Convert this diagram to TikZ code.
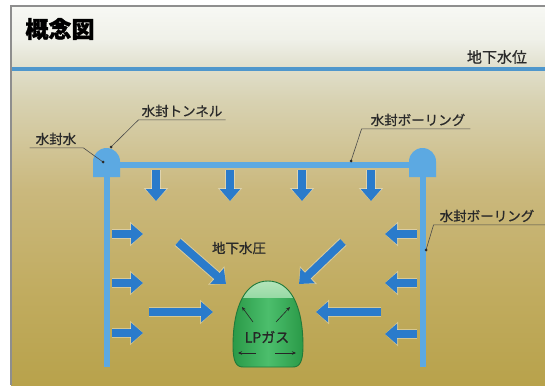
\documentclass[tikz,border=0pt]{standalone}
\usepackage{fontspec}
\newfontfamily\jp[FakeBold=0.8]{Noto Sans CJK JP}
\newfontfamily\jptitle[FakeBold=1.2]{Noto Sans CJK JP}
\usetikzlibrary{arrows.meta}

\definecolor{bgA}{HTML}{F7F8F4}
\definecolor{bgB}{HTML}{EFF0E8}
\definecolor{bgC}{HTML}{E0DFCB}
\definecolor{bgD}{HTML}{D8D2B2}
\definecolor{bgE}{HTML}{CAB87D}
\definecolor{bgF}{HTML}{C1AC60}
\definecolor{bgG}{HTML}{B8A24B}
\definecolor{framegray}{HTML}{8E8E8E}
\definecolor{watertable}{HTML}{4F97CC}
\definecolor{tube}{HTML}{5CA9E2}
\definecolor{flowblue}{HTML}{2A7BCB}
\definecolor{gasdark}{HTML}{2A9A48}
\definecolor{gasmid}{HTML}{4CBE6C}
\definecolor{gaslight}{HTML}{B9E6BE}
\definecolor{gasedge}{HTML}{20793A}
\definecolor{inktext}{HTML}{2A2A2A}
\definecolor{leaderink}{HTML}{4A4A4A}

\begin{document}
\begin{tikzpicture}[x=1pt,y=-1pt,
  lbl/.style={font=\jp\fontsize{13.5}{15}\selectfont, text=inktext, inner xsep=3pt, inner ysep=2.5pt},
  leader/.style={draw=leaderink, line width=0.6pt},
  dot/.style={fill=inktext},
  flow/.style={draw=flowblue, line width=8pt, -{Triangle[length=12pt,width=20pt]},
    preaction={draw=white, draw opacity=0.35, line width=10pt, -{Triangle[length=13pt,width=24pt]}}},
  pipe/.style={draw=tube},
  smallarrow/.style={draw=black!85, line width=0.6pt, -{Stealth[length=4pt,width=3.5pt]}}
]
\useasboundingbox (0,0) rectangle (545,385);
\fill[white] (0,0) rectangle (545,385);

% ground shading, light at the top and khaki towards the bottom
\shade[top color=bgA, bottom color=bgB] (11,6) rectangle (545,40.5);
\shade[top color=bgB, bottom color=bgC] (11,40) rectangle (545,68.5);
\shade[top color=bgC, bottom color=bgD] (11,68) rectangle (545,100.5);
\shade[top color=bgD, bottom color=bgE] (11,100) rectangle (545,190.5);
\shade[top color=bgE, bottom color=bgF] (11,190) rectangle (545,290.5);
\shade[top color=bgF, bottom color=bgG] (11,290) rectangle (545,385);

% frame
\draw[framegray, line width=1.2pt] (11,385) -- (11,6) -- (545,6);

% title
\node[font=\jptitle\bfseries\fontsize{23}{25}\selectfont, text=black] (title) at (60,29) {概念図};

% water table
\draw[watertable, line width=3.5pt] (11.6,69) -- (545,69);
\node[lbl, font=\jp\fontsize{15}{16}\selectfont] (wt) at (497,57) {地下水位};

% tunnels and borings
\coordinate (lt) at (106.5,177);
\coordinate (rt) at (422.5,177);
\draw[pipe, line width=5.5pt] (106.5,165) -- (422.5,165);
\draw[pipe, line width=6pt] (lt) -- (106.5,367);
\draw[pipe, line width=6pt] (rt) -- (422.5,367);
\fill[tube] (93,177) -- (93,161.5) arc[start angle=180, end angle=0, radius=13.5pt] -- (120,177) -- cycle;
\fill[tube] (409,177) -- (409,161.5) arc[start angle=180, end angle=0, radius=13.5pt] -- (436,177) -- cycle;

% groundwater pressure arrows
\foreach \x in {156,230,302,371} \draw[flow] (\x,170) -- (\x,201);
\foreach \y in {234,283,333} \draw[flow] (112,\y) -- (143,\y);
\foreach \y in {234,283,334} \draw[flow] (417,\y) -- (385,\y);
\draw[flow] (178,242) -- (226,284);
\draw[flow] (343,242) -- (299,284);
\draw[flow] (149,312) -- (213,312);
\draw[flow] (381,312) -- (316,312);
\node[lbl] (gwp) at (239,248) {地下水圧};

% LP gas cavern
\def\cavern{(243,367) -- (293,367) .. controls (300,367) and (303,361) .. (303,346)
  .. controls (303,305) and (290,281) .. (268,281)
  .. controls (246,281) and (233,305) .. (233,346)
  .. controls (233,361) and (236,367) .. (243,367) -- cycle}
\shade[left color=gasdark, right color=gasdark, middle color=gasmid] \cavern;
\begin{scope}
  \clip \cavern;
  \shade[top color=gaslight, bottom color=gaslight!70!gasmid] (225,278) rectangle (310,297);
\end{scope}
\draw[gasedge, line width=0.9pt] \cavern;
\node[lbl, font=\jp\fontsize{14}{15}\selectfont, text=black!85] (gas) at (267,337) {LPガス};
\draw[smallarrow] (253,322) -- (242,307);
\draw[smallarrow] (276,322) -- (290,307);
\draw[smallarrow] (256,353) -- (238,353);
\draw[smallarrow] (275,353) -- (296,353);

% labels with leaders
\coordinate (tunnelTop) at (111,147);
\coordinate (sealWater) at (103,162);
\coordinate (boringTop) at (351,161);
\coordinate (boringSide) at (426,250);
\coordinate (rightEdge) at (545,0);

\node[lbl] (tl) at (182,111) {水封トンネル};
\draw[leader] (tl.south east) -- (tl.south west) -- (tunnelTop);
\fill[dot] (tunnelTop) circle (1.5pt);

\node[lbl] (sw) at (56,139) {水封水};
\draw[leader] ([xshift=-3pt]sw.south west) -- ([xshift=4pt]sw.south east) -- (sealWater);
\fill[dot] (sealWater) circle (1.5pt);

\node[lbl] (bt) at (418,120) {水封ボーリング};
\draw[leader] ([xshift=2pt]bt.south east) -- ([xshift=-6pt]bt.south west) -- (boringTop);
\fill[dot] (boringTop) circle (1.5pt);

\node[lbl] (bs) at (487,216) {水封ボーリング};
\draw[leader] (rightEdge |- bs.south) -- ([xshift=-3pt]bs.south west) -- (boringSide);
\fill[dot] (boringSide) circle (1.5pt);
\end{tikzpicture}
\end{document}
